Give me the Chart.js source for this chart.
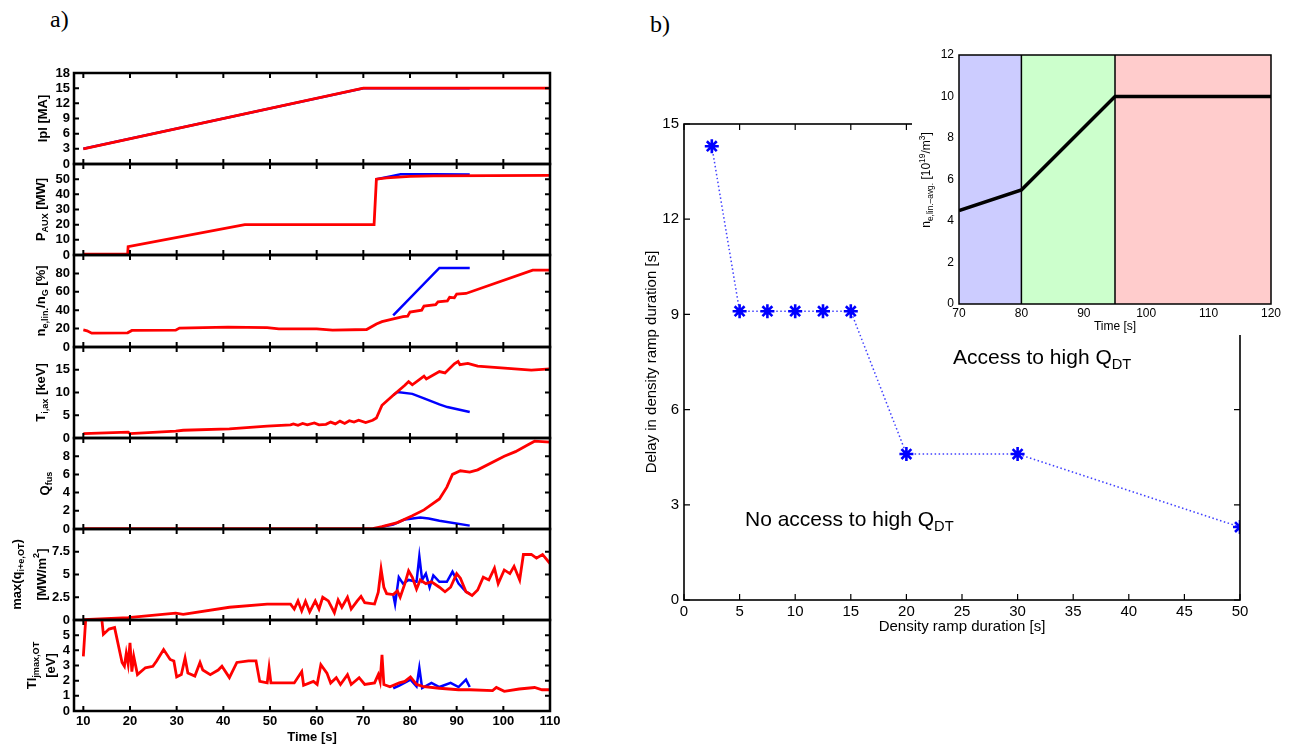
<!DOCTYPE html>
<html lang="en">
<head>
<meta charset="UTF-8">
<title>Density ramp delay</title>
<script src="https://cdn.jsdelivr.net/npm/chart.js"></script>
<style>
  body { margin: 0; background: #fff; width: 1292px; height: 744px; position: relative; overflow: hidden; }
  canvas { position: absolute; }
  .tag { position: absolute; font-family: 'Liberation Serif', 'Times New Roman', serif; font-size: 24px; line-height: 1; }
</style>
</head>
<body>
<div class="tag" style="left:50px;top:7px">a)</div>
<div class="tag" style="left:650px;top:12px">b)</div>
<script>
// ---- panel a: time traces, [time s, value] ----
const timeTicks = [10, 20, 30, 40, 50, 60, 70, 80, 90, 100, 110];

const ipTicks = [0, 3, 6, 9, 12, 15, 18];
const ipRed = [[10, 3], [70, 15], [110, 15]];
const ipBlue = [[10, 3], [70, 15], [92.8, 15]];

const pauxTicks = [0, 10, 20, 30, 40, 50];
const pauxRed = [[10, 0.5], [19.5, 0.5], [19.6, 5.5], [44.6, 20], [72.3, 20], [72.8, 50], [75, 50.8], [80, 51.8], [85, 52.2], [110, 52.5]];
const pauxBlue = [[72.8, 50], [76, 52], [78, 53.2], [85, 53.2], [92.8, 53]];

const neTicks = [0, 20, 40, 60, 80];
const neRed = [[10, 18.5], [10.8, 17.6], [11.8, 15], [19.5, 15.4], [20.4, 18], [29.8, 18.3], [30.6, 20.5], [41, 21.5], [49.4, 21], [51.9, 19.8], [60, 19.8], [63.4, 18.3], [70.7, 19], [72.8, 25], [74, 27.5], [76, 30], [78.5, 33], [79.5, 33.5], [80, 38], [82.5, 40], [83, 44.5], [85.5, 46], [86, 49], [88, 50], [88.5, 54], [89.5, 53.5], [90, 57.5], [92, 58.2], [106.3, 83.5], [110, 83.5]];
const neBlue = [[76.4, 34.5], [86.3, 86], [92.8, 86]];

const tiTicks = [0, 5, 10, 15];
const tiRed = [[10, 0.95], [19.6, 1.3], [20, 0.95], [29.8, 1.5], [31.4, 1.7], [41.3, 2.0], [49.4, 2.6], [54.4, 2.9], [55, 3.1], [56, 2.8], [57, 3.2], [58, 2.9], [59.5, 3.3], [60.5, 2.9], [62, 3.0], [63, 3.5], [64, 3.1], [65, 3.7], [66, 3.2], [67, 3.8], [68, 3.5], [69, 3.9], [70.5, 3.4], [72, 3.9], [72.8, 4.4], [74, 7.2], [76.4, 9.4], [78.9, 11.6], [79.7, 12.4], [80.5, 11.7], [83, 13.6], [83.5, 13.0], [86.3, 14.6], [87.5, 14.3], [89.5, 16.3], [90.3, 16.8], [90.7, 16.1], [92.4, 16.4], [94.5, 15.8], [106, 14.9], [110, 15.2]];
const tiBlue = [[76.4, 9.4], [77.3, 10.1], [80.5, 9.7], [83, 8.7], [86.3, 7.4], [88, 6.8], [92.8, 5.7]];

const qTicks = [0, 2, 4, 6, 8];
const qRed = [[10, 0.05], [72, 0.05], [74, 0.25], [77.3, 0.7], [80.5, 1.45], [83, 2.1], [86.3, 3.3], [87.9, 4.6], [89.1, 6.0], [90.8, 6.4], [92.8, 6.25], [94.5, 6.5], [100.2, 8.0], [102.6, 8.5], [105.1, 9.2], [106.7, 9.65], [110, 9.55]];
const qBlue = [[74, 0.25], [76.4, 0.5], [78.9, 1.05], [82.2, 1.25], [84, 1.15], [86.3, 0.9], [92.8, 0.37]];

const mqTicks = [0, 2.5, 5, 7.5];
const mqRed = [[10, 0.05], [19.6, 0.25], [29.8, 0.75], [31.4, 0.63], [41.3, 1.4], [49.4, 1.75], [54.4, 1.75], [55.2, 1.2], [56, 2.1], [56.8, 1.0], [57.6, 2.05], [58.5, 0.9], [59.7, 2.1], [60.5, 1.2], [61.3, 2.5], [62.5, 2.1], [63.8, 0.8], [64.6, 2.2], [65.4, 1.4], [66.6, 2.5], [67.4, 1.2], [68.7, 2.1], [69.5, 2.6], [70.3, 1.9], [72.4, 1.75], [73.2, 3.05], [73.8, 5.6], [74.4, 3.6], [75, 2.9], [76.4, 2.8], [77.3, 3.2], [77.9, 2.5], [78.9, 4.0], [79.7, 5.4], [80.5, 4.7], [81.4, 3.4], [82.2, 4.4], [83.4, 4.0], [84.6, 4.2], [86.3, 3.6], [87.5, 3.1], [88.7, 3.6], [90, 5.1], [90.8, 4.6], [92, 3.1], [93.3, 2.7], [94.5, 3.3], [95.7, 4.7], [96.9, 4.4], [98.1, 5.7], [98.9, 4.0], [100.2, 5.5], [101.4, 5.1], [102.3, 5.9], [103.5, 4.4], [104.3, 7.2], [106, 7.2], [107.1, 6.8], [108.4, 7.2], [110, 6.2]];
const mqBlue = [[76.4, 2.8], [76.8, 1.75], [77.6, 4.7], [78.5, 4.0], [79.7, 4.4], [81.4, 4.2], [82, 7.0], [82.6, 4.4], [83.4, 5.1], [84.2, 3.6], [85, 4.9], [86.3, 4.2], [87.9, 4.2], [89.1, 5.3], [90.4, 4.0], [92, 3.1], [92.8, 2.9]];

const tlTicks = [0, 1, 2, 3, 4, 5];
const tlRed = [[10, 3.6], [10.6, 6.5], [13.8, 6.5], [14.3, 5.05], [15.5, 5.4], [16.7, 5.5], [18.3, 3.2], [18.8, 2.95], [19.2, 3.8], [19.6, 3.1], [20, 4.5], [20.4, 2.6], [20.8, 3.6], [21.6, 2.4], [23.3, 2.85], [24.9, 2.95], [25.7, 3.3], [27.2, 4.05], [28.6, 3.4], [29.4, 3.3], [30, 2.25], [31, 2.4], [31.8, 3.5], [32.4, 2.5], [33.9, 2.3], [35, 3.2], [35.6, 2.7], [37.2, 2.4], [38.9, 2.7], [39.7, 2.95], [41.3, 2.2], [42.9, 3.2], [45.4, 3.3], [47, 3.3], [47.8, 1.95], [49.4, 1.85], [49.8, 2.85], [50.2, 1.85], [55.2, 1.85], [56.8, 2.6], [57.2, 1.7], [59.3, 1.95], [60.1, 1.75], [60.9, 3.05], [62.2, 2.5], [63, 1.85], [64.2, 2.2], [65.1, 1.75], [66.6, 2.4], [67.4, 1.75], [69.1, 2.2], [70.3, 1.75], [72.4, 1.85], [73.2, 2.4], [73.6, 1.95], [74, 3.7], [74.4, 1.75], [75.7, 1.6], [77.7, 1.85], [78.9, 1.95], [80.1, 2.25], [81.4, 1.75], [83, 1.6], [86.3, 1.5], [90.4, 1.4], [92.8, 1.4], [97.7, 1.35], [98.5, 1.55], [100.2, 1.3], [103.4, 1.45], [106.7, 1.55], [108.3, 1.4], [110, 1.4]];
const tlBlue = [[76.4, 1.5], [77.7, 1.67], [80.1, 2.07], [81.4, 1.62], [82, 2.85], [82.6, 1.51], [84.6, 1.85], [86.3, 1.58], [88.7, 1.85], [90.4, 1.58], [92, 2.07], [92.8, 1.58]];

// ---- panel b ----
const rampDuration = [2.5, 5, 7.5, 10, 12.5, 15, 20, 30, 50];
const rampDelay = [14.3, 9.1, 9.1, 9.1, 9.1, 9.1, 4.6, 4.6, 2.3];
const rampXTicks = [0, 5, 10, 15, 20, 25, 30, 35, 40, 45, 50];
const rampYTicks = [0, 3, 6, 9, 12, 15];

const insetTime = [70, 80, 95, 120];
const insetDensity = [4.5, 5.5, 10, 10];
const phaseEdges = [70, 80, 95, 120];
const phaseColors = ['#ccccff', '#ccffcc', '#ffcccc'];
const insetXTicks = [70, 80, 90, 100, 110, 120];
const insetYTicks = [0, 2, 4, 6, 8, 10, 12];

// ---- helpers ----
const FAM = "'Liberation Sans', Arial, sans-serif";
Chart.defaults.font.family = FAM;
Chart.defaults.color = '#000';

const pts = arr => arr.map(([x, y]) => ({ x, y }));
const setTicks = arr => sc => { sc.ticks = arr.map(v => ({ value: v })); };

function mkCanvas(left, top, w, h) {
  const c = document.createElement('canvas');
  c.width = w; c.height = h;
  c.style.left = left + 'px'; c.style.top = top + 'px';
  c.style.width = w + 'px'; c.style.height = h + 'px';
  document.body.appendChild(c);
  return c;
}

// segs: [text, 0 normal | 1 sub | 2 sup]
function drawRich(ctx, segs, x, y, o) {
  const fontOf = m => (o.bold ? 'bold ' : '') + (m ? o.size * 0.7 : o.size) + 'px ' + FAM;
  ctx.save();
  ctx.translate(x, y);
  if (o.rot) ctx.rotate(-Math.PI / 2);
  ctx.textBaseline = 'middle';
  ctx.textAlign = 'left';
  ctx.fillStyle = '#000';
  let total = 0;
  segs.forEach(([t, m]) => { ctx.font = fontOf(m); total += ctx.measureText(t).width; });
  let cx = o.align === 'left' ? 0 : -total / 2;
  segs.forEach(([t, m]) => {
    ctx.font = fontOf(m);
    const dy = m === 1 ? o.size * 0.32 : m === 2 ? -o.size * 0.4 : 0;
    ctx.fillText(t, cx, dy);
    cx += ctx.measureText(t).width;
  });
  ctx.restore();
}

// box, inward ticks and rich-text labels
function makeFrame(cfg) {
  return {
    id: 'frame',
    beforeDraw(chart) {
      if (!cfg.bg) return;
      const { ctx } = chart;
      ctx.save(); ctx.fillStyle = cfg.bg; ctx.fillRect(0, 0, chart.width, chart.height); ctx.restore();
    },
    beforeDatasetsDraw(chart) {
      if (!cfg.phases) return;
      const { ctx, chartArea: a, scales: { x } } = chart;
      ctx.save();
      for (let i = 0; i < phaseColors.length; i++) {
        const x0 = x.getPixelForValue(phaseEdges[i]), x1 = x.getPixelForValue(phaseEdges[i + 1]);
        ctx.fillStyle = phaseColors[i];
        ctx.fillRect(x0, a.top, x1 - x0, a.height);
      }
      ctx.strokeStyle = '#000'; ctx.lineWidth = 1.5;
      ctx.beginPath();
      for (let i = 1; i < phaseEdges.length - 1; i++) {
        const px = x.getPixelForValue(phaseEdges[i]);
        ctx.moveTo(px, a.top); ctx.lineTo(px, a.bottom);
      }
      ctx.stroke();
      ctx.restore();
    },
    afterDraw(chart) {
      const { ctx, chartArea: a, scales: { x, y } } = chart;
      ctx.save();
      ctx.strokeStyle = '#000';
      if (cfg.len) {
        ctx.lineWidth = cfg.tickW;
        ctx.beginPath();
        cfg.xt.forEach(v => {
          const p = x.getPixelForValue(v);
          ctx.moveTo(p, a.bottom); ctx.lineTo(p, a.bottom - cfg.len);
          ctx.moveTo(p, a.top); ctx.lineTo(p, a.top + cfg.len);
        });
        cfg.yt.forEach(v => {
          const p = y.getPixelForValue(v);
          ctx.moveTo(a.left, p); ctx.lineTo(a.left + cfg.len, p);
          ctx.moveTo(a.right, p); ctx.lineTo(a.right - cfg.len, p);
        });
        ctx.stroke();
      }
      ctx.lineWidth = cfg.lw;
      ctx.strokeRect(a.left, a.top, a.right - a.left, a.bottom - a.top);
      ctx.restore();
      (cfg.texts || []).forEach(t => drawRich(ctx, t.segs, t.x - cfg.ox, t.y - cfg.oy, t));
    }
  };
}

// ---- panel a ----
const subplots = [
  { red: ipRed, blue: ipBlue, max: 18, ticks: ipTicks, labels: [{ x: 43, segs: [['Ipl [MA]', 0]] }] },
  { red: pauxRed, blue: pauxBlue, max: 60, ticks: pauxTicks, labels: [{ x: 41, segs: [['P', 0], ['AUX', 1], [' [MW]', 0]] }] },
  { red: neRed, blue: neBlue, max: 100, ticks: neTicks, labels: [{ x: 41, segs: [['n', 0], ['e,lin.', 1], ['/n', 0], ['G', 1], [' [%]', 0]] }] },
  { red: tiRed, blue: tiBlue, max: 20, ticks: tiTicks, labels: [{ x: 41, segs: [['T', 0], ['i,ax', 1], [' [keV]', 0]] }] },
  { red: qRed, blue: qBlue, max: 10, ticks: qTicks, labels: [{ x: 45, segs: [['Q', 0], ['fus', 1]] }] },
  { red: mqRed, blue: mqBlue, max: 10, ticks: mqTicks, labels: [
    { x: 17, segs: [['max(q', 0], ['i+e,OT', 1], [')', 0]] },
    { x: 42, segs: [['[MW/m', 0], ['2', 2], [']', 0]] }] },
  { red: tlRed, blue: tlBlue, max: 6, ticks: tlTicks, labels: [
    { x: 32, segs: [['Tl', 0], ['jmax,OT', 1]] },
    { x: 51, segs: [['[eV]', 0]] }] }
];

const boldTick = { size: 13, weight: 'bold' };
const nSub = subplots.length;
subplots.forEach((s, i) => {
  const top = Math.round(73 + i * 91.2);
  const bottom = Math.round(73 + (i + 1) * 91.2);
  const last = i === nSub - 1;
  const padT = 12;
  const below = last ? 33 : 12;
  const cv = mkCanvas(0, top - padT, 565, bottom - top + padT + below);
  const texts = s.labels.map(l => ({ x: l.x, y: (top + bottom) / 2, segs: l.segs, size: 13, bold: true, rot: true }));
  if (last) texts.push({ x: 312, y: 737, segs: [['Time [s]', 0]], size: 13, bold: true });
  const xScale = {
    type: 'linear', min: 8, max: 110, display: last,
    afterBuildTicks: setTicks(timeTicks),
    grid: { display: false, drawTicks: false }, border: { display: false },
    ticks: { font: boldTick, color: '#000', padding: 3, maxRotation: 0, autoSkip: false, callback: v => String(v) }
  };
  if (last) xScale.afterFit = sc => { sc.height = below; };
  new Chart(cv, {
    type: 'line',
    data: { datasets: [
      { data: pts(s.red), borderColor: '#ff0000', borderWidth: 2.8 },
      { data: pts(s.blue), borderColor: '#0000ff', borderWidth: 2.5 }
    ] },
    options: {
      responsive: false, animation: false, events: [],
      layout: { padding: { top: padT, bottom: last ? 0 : below, left: 0, right: 15 } },
      elements: { point: { radius: 0 }, line: { tension: 0 } },
      plugins: { legend: { display: false }, tooltip: { enabled: false } },
      scales: {
        x: xScale,
        y: {
          type: 'linear', min: 0, max: s.max,
          afterBuildTicks: setTicks(s.ticks),
          afterFit: sc => { sc.width = 74; },
          grid: { display: false, drawTicks: false }, border: { display: false },
          ticks: { font: boldTick, color: '#000', padding: 4, autoSkip: false, callback: v => String(v) }
        }
      }
    },
    plugins: [makeFrame({ lw: 2.5, tickW: 2, len: 5, xt: timeTicks, yt: s.ticks, ox: 0, oy: top - padT, texts })]
  });
});

// ---- panel b: main plot ----
const mainLeft = 600, mainTop = 100;
new Chart(mkCanvas(mainLeft, mainTop, 692, 560), {
  type: 'line',
  data: { datasets: [{
    data: rampDuration.map((x, i) => ({ x, y: rampDelay[i] })),
    borderColor: 'rgba(30,30,255,0.85)', borderWidth: 1.5, borderDash: [1.5, 2.5],
    pointStyle: 'star', pointRadius: 7, pointBorderWidth: 2.6,
    pointBorderColor: '#0000ff', pointBackgroundColor: '#0000ff'
  }] },
  options: {
    responsive: false, animation: false, events: [],
    layout: { padding: { top: 24, bottom: 0, left: 0, right: 52 } },
    elements: { line: { tension: 0 } },
    plugins: { legend: { display: false }, tooltip: { enabled: false } },
    scales: {
      x: {
        type: 'linear', min: 0, max: 50,
        afterBuildTicks: setTicks(rampXTicks), afterFit: sc => { sc.height = 60; },
        grid: { display: false, drawTicks: false }, border: { display: false },
        ticks: { font: { size: 15 }, color: '#000', padding: 3, maxRotation: 0, autoSkip: false, callback: v => String(v) }
      },
      y: {
        type: 'linear', min: 0, max: 15,
        afterBuildTicks: setTicks(rampYTicks), afterFit: sc => { sc.width = 84; },
        grid: { display: false, drawTicks: false }, border: { display: false },
        ticks: { font: { size: 15 }, color: '#000', padding: 5, autoSkip: false, callback: v => String(v) }
      }
    }
  },
  plugins: [makeFrame({
    lw: 1.6, tickW: 1.2, len: 6, xt: rampXTicks, yt: rampYTicks, ox: mainLeft, oy: mainTop,
    texts: [
      { x: 652, y: 362, segs: [['Delay in density ramp duration [s]', 0]], size: 15, rot: true },
      { x: 962, y: 627, segs: [['Density ramp duration [s]', 0]], size: 15 },
      { x: 745, y: 520, segs: [['No access to high Q', 0], ['DT', 1]], size: 21, align: 'left' },
      { x: 953, y: 358, segs: [['Access to high Q', 0], ['DT', 1]], size: 21, align: 'left' }
    ]
  })]
});

// ---- panel b: inset ----
const insLeft = 912, insTop = 30;
new Chart(mkCanvas(insLeft, insTop, 380, 305), {
  type: 'line',
  data: { datasets: [{
    data: insetTime.map((x, i) => ({ x, y: insetDensity[i] })),
    borderColor: '#000', borderWidth: 3.5, pointRadius: 0
  }] },
  options: {
    responsive: false, animation: false, events: [],
    layout: { padding: { top: 25, bottom: 0, left: 0, right: 21 } },
    elements: { line: { tension: 0 } },
    plugins: { legend: { display: false }, tooltip: { enabled: false } },
    scales: {
      x: {
        type: 'linear', min: 70, max: 120,
        afterBuildTicks: setTicks(insetXTicks), afterFit: sc => { sc.height = 31; },
        grid: { display: false, drawTicks: false }, border: { display: false },
        ticks: { font: { size: 12 }, color: '#000', padding: 2, maxRotation: 0, autoSkip: false, callback: v => String(v) }
      },
      y: {
        type: 'linear', min: 0, max: 12,
        afterBuildTicks: setTicks(insetYTicks), afterFit: sc => { sc.width = 47; },
        grid: { display: false, drawTicks: false }, border: { display: false },
        ticks: { font: { size: 12 }, color: '#000', padding: 5, autoSkip: false, callback: v => String(v) }
      }
    }
  },
  plugins: [makeFrame({
    bg: '#fff', phases: true, lw: 1.5, len: 0, ox: insLeft, oy: insTop,
    texts: [
      { x: 927, y: 180, segs: [['n', 0], ['e,lin.\u2013avg.', 1], [' [10', 0], ['19', 2], ['/m', 0], ['3', 2], [']', 0]], size: 12, rot: true },
      { x: 1115, y: 327, segs: [['Time [s]', 0]], size: 12 }
    ]
  })]
});
</script>
</body>
</html>
